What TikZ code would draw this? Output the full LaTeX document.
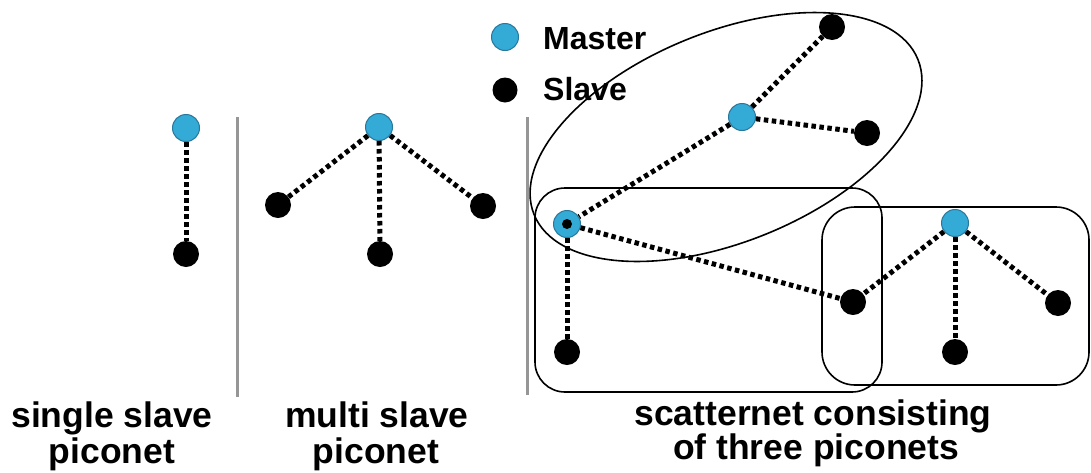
\documentclass[tikz,border=0pt]{standalone}
\usepackage{fontspec}
\setmainfont{Liberation Sans}
\definecolor{mcyan}{RGB}{52,170,214}
\definecolor{mborder}{RGB}{40,120,155}
\definecolor{sepgray}{RGB}{150,150,150}
\begin{document}
\begin{tikzpicture}[x=1pt,y=-1pt,
  master/.style={circle,fill=mcyan,draw=mborder,line width=1pt,minimum size=27pt,inner sep=0pt},
  slave/.style={circle,fill=black,minimum size=26pt,inner sep=0pt},
  link/.style={line width=5pt,dash pattern=on 4.5pt off 3.5pt,black},
  group/.style={draw=black,line width=1.6pt},
  sep/.style={draw=sepgray,line width=3pt},
  lab/.style={font=\fontsize{35.5}{36}\selectfont\bfseries,anchor=base,inner sep=0pt},
  leg/.style={font=\fontsize{32}{32}\selectfont\bfseries,anchor=base west,inner sep=0pt}]
\useasboundingbox[fill=white] (0,0) rectangle (1091,472);

% separators
\coordinate (v1a) at (237,117); \coordinate (v1b) at (237,397);
\coordinate (v2a) at (527,117); \coordinate (v2b) at (527,395);
\draw[sep] (v1a) -- (v1b);
\draw[sep] (v2a) -- (v2b);

% legend
\node[master] (lm) at (505,37) {};
\node[slave,minimum size=25pt] (ls) at (505,90) {};
\node[leg] (lmt) at (543,49) {Master};
\node[leg] (lst) at (543,100) {Slave};

% single slave piconet
\node[master] (m1) at (186,128) {};
\node[slave] (s1) at (186,254) {};
\draw[link] (m1) -- (s1);

% multi slave piconet
\node[master] (m2) at (379,127) {};
\node[slave] (s2a) at (278,205) {};
\node[slave] (s2b) at (380,254) {};
\node[slave] (s2c) at (483,206) {};
\draw[link] (m2) -- (s2a);
\draw[link] (m2) -- (s2b);
\draw[link] (m2) -- (s2c);

% scatternet
\node[master] (m3) at (742,117) {};
\node[slave] (t1) at (832,27) {};
\node[slave] (t2) at (867,133) {};
\node[master] (b) at (567,224) {};
\fill[black] (b.center) circle (5pt);
\node[slave] (bl) at (567,352) {};
\node[slave] (bs) at (853,302) {};
\node[master] (m4) at (955,223) {};
\node[slave] (r1) at (955,352) {};
\node[slave] (r2) at (1058,303) {};
\draw[link] (m3) -- (t1);
\draw[link] (m3) -- (t2);
\draw[link] (m3) -- (b);
\draw[link] (b) -- (bl);
\draw[link] (b) -- (bs);
\draw[link] (m4) -- (bs);
\draw[link] (m4) -- (r1);
\draw[link] (m4) -- (r2);

% piconet groupings
\coordinate (ec) at (726,137);
\draw[group,rotate around={22:(ec)}] (ec) ellipse [x radius=207pt,y radius=105pt];
\coordinate (g1a) at (535,188); \coordinate (g1b) at (882,392);
\coordinate (g2a) at (822,207); \coordinate (g2b) at (1089,385);
\draw[group,rounded corners=30pt] (g1a) rectangle (g1b);
\draw[group,rounded corners=33pt] (g2a) rectangle (g2b);

% labels
\node[lab] (l1a) at (112,427) {single slave};
\node[lab] (l1b) at (112,463) {piconet};
\node[lab] (l2a) at (377,427) {multi slave};
\node[lab] (l2b) at (376,463) {piconet};
\node[lab] (l3a) at (813,425) {scatternet consisting};
\node[lab] (l3b) at (816,459) {of three piconets};
\end{tikzpicture}
\end{document}
